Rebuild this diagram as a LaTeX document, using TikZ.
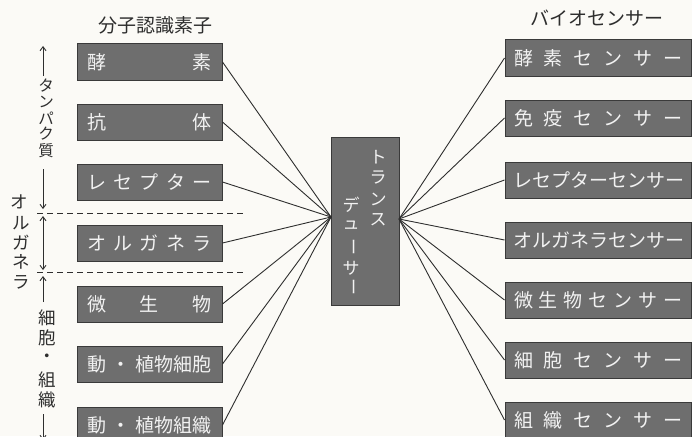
\documentclass[tikz,border=0pt]{standalone}
\usepackage{fontspec}
\usepackage{graphicx}
\setmainfont{Noto Sans CJK JP}
\usetikzlibrary{arrows.meta}
\definecolor{boxfill}{HTML}{6E6E6E}
\definecolor{boxline}{HTML}{3A3A3A}
\definecolor{boxtext}{HTML}{F2F2F2}
\definecolor{ink}{HTML}{2E2E2E}
\definecolor{paper}{HTML}{FBFAF6}
\newcommand{\vbar}{\rotatebox[origin=c]{-90}{ー}}
\begin{document}
\begin{tikzpicture}[x=1pt,y=-1pt,
  lbox/.style={draw=boxline, fill=boxfill, line width=1pt, minimum width=145pt, minimum height=36pt, inner sep=0pt, text=boxtext, font=\fontsize{19}{19}\selectfont},
  rbox/.style={draw=boxline, fill=boxfill, line width=1pt, minimum width=186pt, minimum height=36pt, inner sep=0pt, text=boxtext, font=\fontsize{19}{19}\selectfont},
  tbox/.style={draw=boxline, fill=boxfill, line width=1pt, minimum width=68pt, minimum height=168pt, inner sep=0pt},
  ttxt/.style={text=boxtext, inner sep=0pt, font=\fontsize{17}{17}\selectfont},
  head/.style={text=ink, inner sep=0pt, font=\fontsize{19}{19}\selectfont},
  side/.style={text=ink, inner sep=0pt, font=\fontsize{17.5}{17.5}\selectfont},
  sidep/.style={text=ink, inner sep=0pt, font=\fontsize{15.5}{15.5}\selectfont},
  conn/.style={draw=ink, line width=0.9pt},
  rng/.style={draw=ink, line width=0.9pt, -{Straight Barb[length=4pt,width=6pt]}},
  sep/.style={draw=ink, line width=0.8pt, dash pattern=on 6pt off 4pt}
]
\fill[paper] (0,0) rectangle (692,436);
\useasboundingbox (0,0) rectangle (692,436);
\clip (0,0) rectangle (692,436);

% headers
\node[head] (hl) at (155,25) {分子認識素子};
\node[head] (hr) at (597,18) {バイオセンサー};

% left boxes
\node[lbox] (l1) at (149.5,62) {\makebox[124pt][s]{酵\hfil 素}};
\node[lbox] (l2) at (149.5,122) {\makebox[124pt][s]{抗\hfil 体}};
\node[lbox] (l3) at (149.5,182) {\makebox[124pt][s]{レ\hfil セ\hfil プ\hfil タ\hfil ー}};
\node[lbox] (l4) at (149.5,243) {\makebox[124pt][s]{オ\hfil ル\hfil ガ\hfil ネ\hfil ラ}};
\node[lbox] (l5) at (149.5,304) {\makebox[124pt][s]{微\hfil 生\hfil 物}};
\node[lbox] (l6) at (149.5,364) {\makebox[124pt][s]{動\hfil ・\hfil 植物細胞}};
\node[lbox] (l7) at (149.5,425) {\makebox[124pt][s]{動\hfil ・\hfil 植物組織}};

% right boxes
\node[rbox] (r1) at (598,58) {\makebox[168pt][s]{酵\hfil 素\hfil セ\hfil ン\hfil サ\hfil ー}};
\node[rbox] (r2) at (598,118) {\makebox[168pt][s]{免\hfil 疫\hfil セ\hfil ン\hfil サ\hfil ー}};
\node[rbox] (r3) at (598,180) {\makebox[170pt][s]{レ\hfil セ\hfil プ\hfil タ\hfil ー\hfil セ\hfil ン\hfil サ\hfil ー}};
\node[rbox] (r4) at (598,240) {\makebox[170pt][s]{オ\hfil ル\hfil ガ\hfil ネ\hfil ラ\hfil セ\hfil ン\hfil サ\hfil ー}};
\node[rbox] (r5) at (598,300) {\makebox[168pt][s]{微\hfil 生\hfil 物\hfil セ\hfil ン\hfil サ\hfil ー}};
\node[rbox] (r6) at (598,360) {\makebox[168pt][s]{細\hfil 胞\hfil セ\hfil ン\hfil サ\hfil ー}};
\node[rbox] (r7) at (598,420) {\makebox[168pt][s]{組\hfil 織\hfil セ\hfil ン\hfil サ\hfil ー}};

% transducer
\node[tbox] (t) at (365,221) {};
\coordinate (tl) at (331,217);
\coordinate (tr) at (399,219);
\node[ttxt] (t1) at (378,157) {ト};
\node[ttxt] (t2) at (378,178) {ラ};
\node[ttxt] (t3) at (378,199) {ン};
\node[ttxt] (t4) at (378,220) {ス};
\node[ttxt] (t5) at (351,205) {デ};
\node[ttxt] (t6) at (351,225) {ュ};
\node[ttxt] (t7) at (351,247) {\vbar};
\node[ttxt] (t8) at (351,268) {サ};
\node[ttxt] (t9) at (351,287) {\vbar};

% connectors
\foreach \i in {1,...,7} {
  \draw[conn] (l\i.east) -- (tl);
  \draw[conn] (tr) -- (r\i.west);
}

% separators
\coordinate (d1a) at (37,213); \coordinate (d1b) at (243,213);
\coordinate (d2a) at (37,272); \coordinate (d2b) at (243,272);
\draw[sep] (d1a) -- (d1b);
\draw[sep] (d2a) -- (d2b);

% side labels: protein
\node[sidep] (p1) at (46,86) {タ};
\node[sidep] (p2) at (46,102) {ン};
\node[sidep] (p3) at (46,118) {パ};
\node[sidep] (p4) at (46,134) {ク};
\node[sidep] (p5) at (46,151) {質};
\coordinate (pa1) at (43,76); \coordinate (pa2) at (43,46);
\coordinate (pb1) at (43,169); \coordinate (pb2) at (43,209);
\draw[rng] (pa1) -- (pa2);
\draw[rng] (pb1) -- (pb2);

% organelle
\node[side] (o1) at (19,202) {オ};
\node[side] (o2) at (21,223) {ル};
\node[side] (o3) at (21,243) {ガ};
\node[side] (o4) at (21,262) {ネ};
\node[side] (o5) at (21,282) {ラ};
\coordinate (oa) at (43,216); \coordinate (ob) at (43,270);
\draw[rng, {Straight Barb[length=4pt,width=6pt]}-{Straight Barb[length=4pt,width=6pt]}] (oa) -- (ob);

% cell / tissue
\node[side] (c1) at (47,318) {細};
\node[side] (c2) at (47,338) {胞};
\node[side] (c3) at (47,358) {・};
\node[side] (c4) at (47,380) {組};
\node[side] (c5) at (47,400) {織};
\coordinate (ca1) at (43,302); \coordinate (ca2) at (43,276);
\coordinate (cb1) at (43,414); \coordinate (cb2) at (43,440);
\draw[rng] (ca1) -- (ca2);
\draw[rng] (cb1) -- (cb2);
\end{tikzpicture}
\end{document}
